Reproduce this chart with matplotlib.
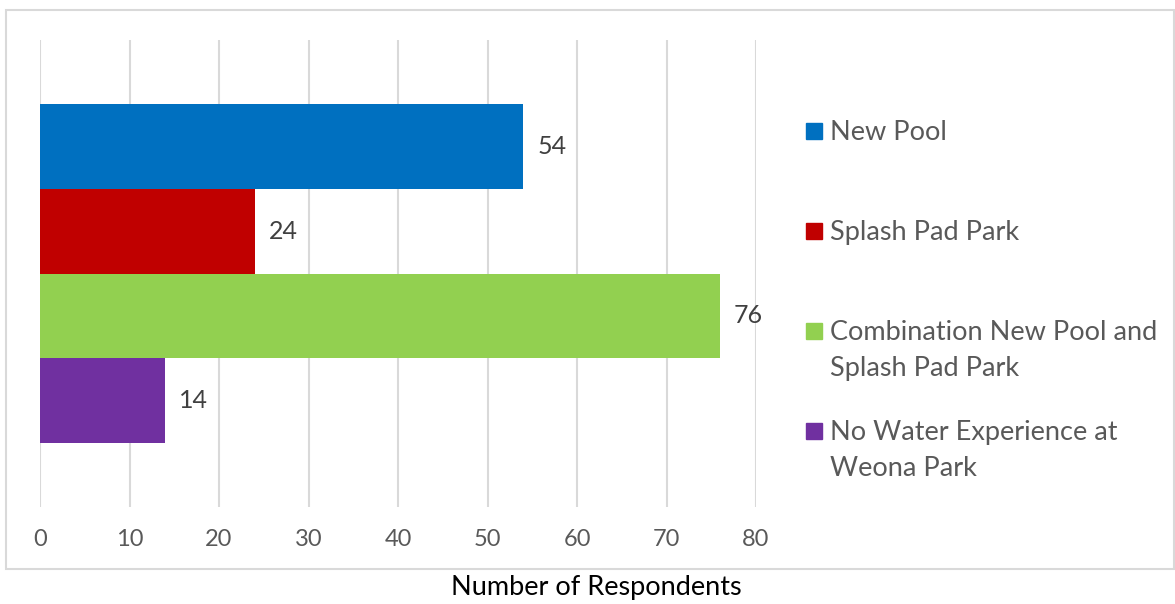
import matplotlib.pyplot as plt
from matplotlib.patches import Rectangle

plt.rcParams['font.family'] = ['Lato', 'DejaVu Sans']

categories = ['New Pool', 'Splash Pad Park',
              'Combination New Pool and\nSplash Pad Park',
              'No Water Experience at\nWeona Park']
respondents = [54, 24, 76, 14]
colors = ['#0070C0', '#C00000', '#92D050', '#7030A0']
ticks = [0, 10, 20, 30, 40, 50, 60, 70, 80]

W, H = 1175, 604
fig = plt.figure(figsize=(W / 100, H / 100), dpi=100)

# cadre gris autour du graphique
fig.patches.append(Rectangle((6 / W, 1 - 569 / H), 1168 / W, 559 / H,
                             transform=fig.transFigure, fill=False,
                             edgecolor='#d9d9d9', linewidth=1.5))

ax = fig.add_axes([40 / W, 1 - 507 / H, 716 / W, 467 / H])

pos = list(range(len(categories)))
bars = ax.barh(pos, respondents, height=1.0, color=colors, zorder=3)
ax.bar_label(bars, padding=10, fontsize=18, color='#404040')

ax.set_xlim(0, 80)
ax.set_ylim(3.5 + 0.75, -0.5 - 0.75)
ax.set_xticks(ticks)
ax.set_yticks([])
ax.grid(axis='x', color='#d9d9d9', linewidth=1.5, zorder=0)
for s in ax.spines.values():
    s.set_visible(False)
ax.tick_params(axis='x', length=0, labelsize=17, labelcolor='#595959', pad=16)

fig.text(596 / W, 1 - 588 / H, 'Number of Respondents', ha='center',
         va='center', fontsize=19.5, color='black')

# legende faite a la main (carre aligne sur la premiere ligne)
for i, (lab, c) in enumerate(zip(categories, colors)):
    y = 131 + 100 * i
    fig.patches.append(Rectangle((806 / W, 1 - (y + 8) / H), 16 / W, 16 / H,
                                 transform=fig.transFigure, color=c))
    fig.text(830 / W, 1 - (y - 11) / H, lab, ha='left', va='top',
             fontsize=19.5, color='#595959', linespacing=1.55)

fig.savefig('out.png', dpi=100)
